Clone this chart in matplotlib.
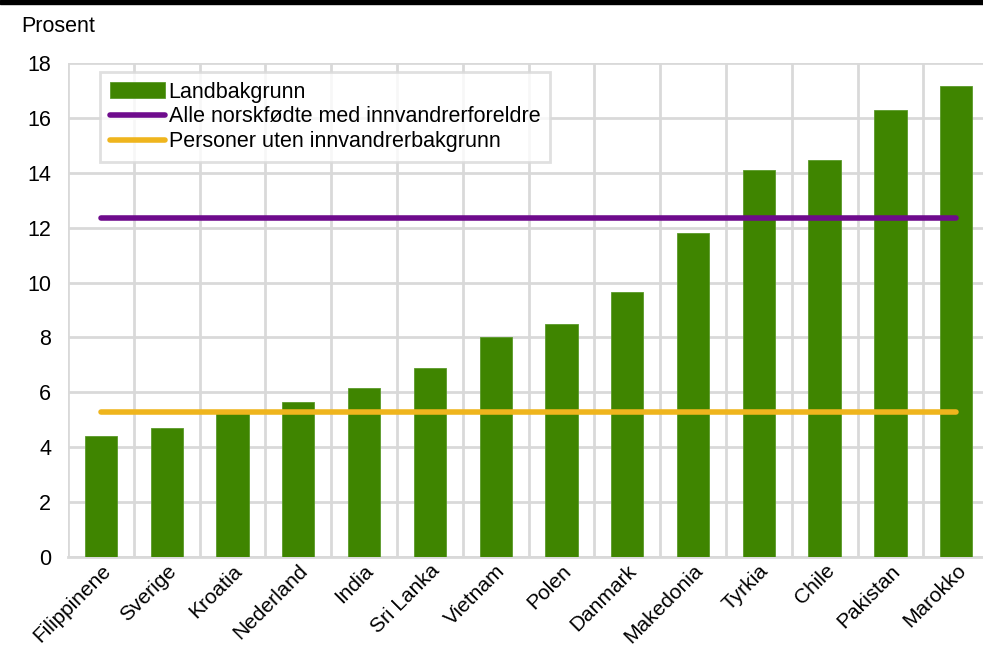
import matplotlib
matplotlib.use("Agg")
import matplotlib.pyplot as plt
from matplotlib.patches import Rectangle
import numpy as np

plt.rcParams["font.family"] = ["Liberation Sans", "DejaVu Sans"]

# Data
land = ["Filippinene", "Sverige", "Kroatia", "Nederland", "India", "Sri Lanka",
        "Vietnam", "Polen", "Danmark", "Makedonia", "Tyrkia", "Chile",
        "Pakistan", "Marokko"]
landbakgrunn = [4.4, 4.7, 5.3, 5.65, 6.15, 6.9, 8.0, 8.5, 9.65, 11.8,
                14.1, 14.45, 16.3, 17.15]
alle_norskfodte = 12.35
uten_innvandrerbakgrunn = 5.3

GRONN = "#3f8500"
LILLA = "#6e0b8c"
GUL = "#efb51d"
GRID = "#d9d9d9"
FS = 15.5

fig = plt.figure(figsize=(9.83, 6.46), dpi=100)
fig.patch.set_facecolor("white")
ax = fig.add_axes([0.0692, 0.1378, 0.937, 0.7647])

x = np.arange(len(land))
bars = ax.bar(x, landbakgrunn, width=0.49, color=GRONN, edgecolor="#5a9a2a",
              linewidth=0.6, label="Landbakgrunn", zorder=3)
l1, = ax.plot([x[0], x[-1]], [alle_norskfodte] * 2, color=LILLA, lw=4,
              solid_capstyle="round",
              label="Alle norskfødte med innvandrerforeldre", zorder=4)
l2, = ax.plot([x[0], x[-1]], [uten_innvandrerbakgrunn] * 2, color=GUL, lw=4,
              solid_capstyle="round",
              label="Personer uten innvandrerbakgrunn", zorder=4)

ax.set_xlim(-0.5, len(land) - 0.5)
ax.set_ylim(0, 18)
ax.set_yticks(np.arange(0, 19, 2))
ax.set_xticks(np.arange(-0.5, len(land), 1), minor=True)
ax.set_xticks(x)
ax.set_xticklabels(land, rotation=45, ha="right", rotation_mode="anchor",
                   fontsize=15)
ax.tick_params(axis="y", labelsize=FS, length=0, pad=12)
ax.tick_params(axis="x", which="both", length=0, pad=3)
ax.grid(axis="y", color=GRID, linewidth=2, zorder=0)
ax.grid(axis="x", which="minor", color=GRID, linewidth=2, zorder=0)
ax.grid(axis="x", which="major", visible=False)
for s in ["top", "right", "left"]:
    ax.spines[s].set_visible(False)
ax.spines["bottom"].set_color(GRID)
ax.spines["bottom"].set_linewidth(2)

leg = ax.legend([bars, l1, l2],
                ["Landbakgrunn", "Alle norskfødte med innvandrerforeldre",
                 "Personer uten innvandrerbakgrunn"],
                loc="upper left", bbox_to_anchor=(0.0347, 0.982), fontsize=FS,
                frameon=True, fancybox=False, handlelength=2.55,
                handletextpad=0.19, borderpad=0.45, labelspacing=0.18,
                borderaxespad=0)
leg.get_frame().set_edgecolor(GRID)
leg.get_frame().set_linewidth(2)

fig.text(21 / 983, 1 - 26 / 646, "Prosent", fontsize=FS, va="center", ha="left")
fig.add_artist(Rectangle((0, 1 - 3.5 / 646), 1, 3.5 / 646, transform=fig.transFigure,
                         color="black", zorder=10))

fig.savefig("out.png", dpi=100)
